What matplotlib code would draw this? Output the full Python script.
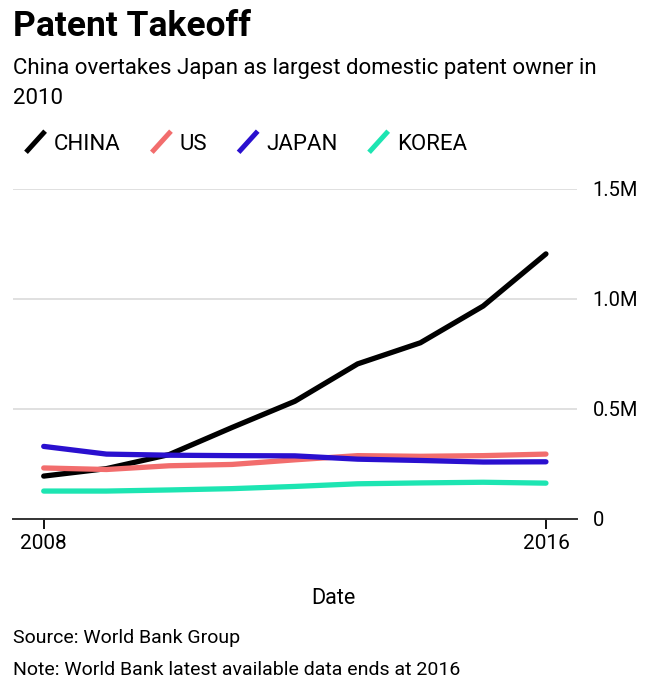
import matplotlib.pyplot as plt
from matplotlib.legend_handler import HandlerBase
from matplotlib.lines import Line2D

plt.rcParams['font.family'] = ['Roboto', 'DejaVu Sans']

# resident patent applications, millions
years = [2008, 2009, 2010, 2011, 2012, 2013, 2014, 2015, 2016]
china = [0.195, 0.229, 0.293, 0.416, 0.535, 0.705, 0.801, 0.968, 1.205]
us = [0.232, 0.225, 0.242, 0.248, 0.269, 0.288, 0.285, 0.288, 0.295]
japan = [0.330, 0.295, 0.290, 0.288, 0.287, 0.272, 0.266, 0.259, 0.260]
korea = [0.127, 0.127, 0.132, 0.138, 0.148, 0.160, 0.164, 0.167, 0.163]

series_names = ["CHINA", "US", "JAPAN", "KOREA"]
series_colors = ["#000000", "#f26d6d", "#2a10cf", "#1de5b2"]

yticks = [0, 0.5, 1.0, 1.5]
ytick_labels = ["0", "0.5M", "1.0M", "1.5M"]


class SlashHandler(HandlerBase):
    # legend swatch drawn as a short diagonal stroke
    def create_artists(self, legend, orig_handle, xdescent, ydescent,
                       width, height, fontsize, trans):
        line = Line2D([-xdescent, -xdescent + width],
                      [-ydescent - 2, -ydescent + height + 2],
                      color=orig_handle.get_color(), lw=3.6,
                      solid_capstyle="butt", transform=trans)
        return [line]


fig = plt.figure(figsize=(6.6, 6.91), dpi=100)
ax = fig.add_axes([12.7 / 660, 1 - 519 / 691, (576.7 - 12.7) / 660, (519 - 189) / 691])

handles = []
for vals, name, col in zip([china, us, japan, korea], series_names, series_colors):
    h, = ax.plot(years, vals, color=col, lw=3.8, solid_capstyle="round",
                 solid_joinstyle="round", label=name, clip_on=False)
    handles.append(h)

ax.set_xlim(2007.506, 2016.49)
ax.set_ylim(0, 1.5)
ax.set_xticks([2008, 2016])
ax.set_xticklabels(["2008", "2016"])
ax.set_yticks(yticks)
ax.set_yticklabels(ytick_labels)
ax.yaxis.tick_right()
ax.tick_params(axis="y", length=0, pad=11.5, labelsize=14.5, colors="#000000")
ax.tick_params(axis="x", length=7.5, width=1.3, pad=3, labelsize=15)
ax.grid(axis="y", color="#e0e0e0", lw=1.4)
ax.set_axisbelow(True)
for s in ["top", "left", "right"]:
    ax.spines[s].set_visible(False)
ax.spines["bottom"].set_linewidth(1.4)
ax.spines["bottom"].set_color("#333333")
ax.spines["bottom"].set_zorder(1)

fig.text(333 / 660, 1 - 604 / 691, "Date", fontsize=15.5, ha="center", va="baseline")

fig.text(12.7 / 660, 1 - 36 / 691, "Patent Takeoff", fontsize=25.5,
         fontweight="bold", va="baseline", ha="left")
fig.text(12.7 / 660, 1 - 74 / 691,
         "China overtakes Japan as largest domestic patent owner in",
         fontsize=16, va="baseline", ha="left")
fig.text(12.7 / 660, 1 - 104 / 691, "2010", fontsize=16, va="baseline", ha="left")

fig.legend(handles, series_names, loc="center left",
           bbox_to_anchor=(26 / 660, 1 - 144 / 691), ncol=4, frameon=False,
           fontsize=16, handlelength=0.86, handletextpad=0.4, columnspacing=1.4,
           borderpad=0, borderaxespad=0,
           handler_map={Line2D: SlashHandler()})

fig.text(12.7 / 660, 1 - 643 / 691, "Source: World Bank Group", fontsize=14,
         va="baseline", ha="left")
fig.text(12.7 / 660, 1 - 675 / 691, "Note: World Bank latest available data ends at 2016",
         fontsize=14, va="baseline", ha="left")

fig.savefig("out.png", dpi=100)
